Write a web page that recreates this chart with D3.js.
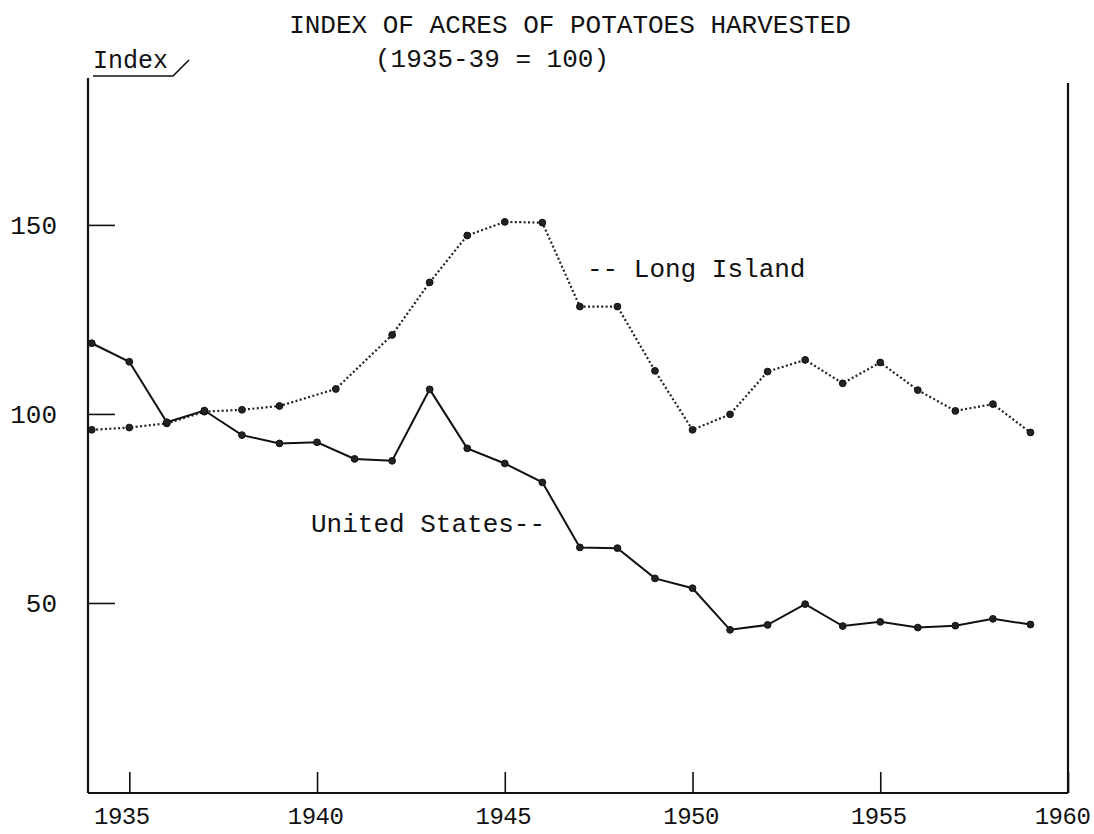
<!DOCTYPE html>
<html>
<head>
<meta charset="utf-8">
<script src="https://cdn.jsdelivr.net/npm/d3@7"></script>
<style>
  body { margin: 0; background: #fff; }
  text { font-family: "Liberation Mono", "Courier New", monospace; fill: #111; }
</style>
</head>
<body>
<svg id="chart"></svg>
<script>
const usYears = [1934, 1935, 1936, 1937, 1938, 1939, 1940, 1941, 1942, 1943, 1944, 1945, 1946,
  1947, 1948, 1949, 1950, 1951, 1952, 1953, 1954, 1955, 1956, 1957, 1958, 1959];
const usValues = [118.7, 113.8, 97.8, 100.9, 94.4, 92.2, 92.5, 88.1, 87.6, 106.5, 90.9, 86.9, 81.9,
  64.7, 64.5, 56.5, 53.9, 42.9, 44.2, 49.7, 43.9, 45.0, 43.5, 44.0, 45.8, 44.3];

// the long island plot has one point drawn between 1940 and 1941
const liYears = [1934, 1935, 1936, 1937, 1938, 1939, 1940.5, 1942, 1943, 1944, 1945, 1946,
  1947, 1948, 1949, 1950, 1951, 1952, 1953, 1954, 1955, 1956, 1957, 1958, 1959];
const liValues = [95.8, 96.4, 97.5, 100.6, 101.1, 102.1, 106.6, 120.9, 134.8, 147.2, 150.8, 150.6,
  128.4, 128.4, 111.4, 95.8, 99.9, 111.2, 114.3, 108.1, 113.6, 106.3, 100.8, 102.6, 95.1];

const xTicks = [1935, 1940, 1945, 1950, 1955, 1960];
const yTicks = [50, 100, 150];

const width = 1094;
const height = 834;

const x = d3.scaleLinear().domain([1933.9, 1960]).range([88, 1068]);
const y = d3.scaleLinear().domain([0, 187.8]).range([792, 82]);

const svg = d3.select("#chart").attr("width", width).attr("height", height);

// frame
svg.append("line").attr("x1", 88).attr("x2", 88).attr("y1", 78).attr("y2", 793)
  .attr("stroke", "#111").attr("stroke-width", 2.2);
svg.append("line").attr("x1", 1068).attr("x2", 1068).attr("y1", 83).attr("y2", 793)
  .attr("stroke", "#111").attr("stroke-width", 2.2);

const xAxis = svg.append("g")
  .attr("transform", "translate(0,793)")
  .call(d3.axisBottom(x).tickValues(xTicks).tickFormat(d3.format("d")).tickSize(-21).tickPadding(14));
const yAxis = svg.append("g")
  .attr("transform", "translate(88,0)")
  .call(d3.axisLeft(y).tickValues(yTicks).tickSize(-27).tickPadding(31));

[xAxis, yAxis].forEach((g) => {
  g.select(".domain").attr("stroke", "#111").attr("stroke-width", 2);
  g.selectAll(".tick line").attr("stroke", "#111").attr("stroke-width", 1.6);
  g.selectAll(".tick text").style("font-size", "26px").attr("fill", "#111");
});
yAxis.select(".domain").remove();
xAxis.select(".domain").attr("d", "M88,0H1068");
xAxis.selectAll(".tick text")
  .style("font-size", "24px").style("letter-spacing", "-0.5px")
  .attr("dx", (d) => (d === 1935 ? -8 : d === 1960 ? -6 : -2));

const us = usYears.map((yr, i) => ({ yr, v: usValues[i] }));
const li = liYears.map((yr, i) => ({ yr, v: liValues[i] }));

const line = d3.line().x((d) => x(d.yr)).y((d) => y(d.v));

svg.append("path").datum(li)
  .attr("d", line).attr("fill", "none")
  .attr("stroke", "#222").attr("stroke-width", 2.2)
  .attr("stroke-dasharray", "2,2.4");

svg.append("path").datum(us)
  .attr("d", line).attr("fill", "none")
  .attr("stroke", "#111").attr("stroke-width", 2);

svg.append("g").selectAll("circle").data(li.concat(us)).join("circle")
  .attr("cx", (d) => x(d.yr)).attr("cy", (d) => y(d.v))
  .attr("r", 3.4).attr("fill", "#222").attr("stroke", "#111").attr("stroke-width", 1);

// titles and labels
svg.append("text").attr("x", 570).attr("y", 33).attr("text-anchor", "middle")
  .style("font-size", "26px").text("INDEX OF ACRES OF POTATOES HARVESTED");
svg.append("text").attr("x", 492).attr("y", 67).attr("text-anchor", "middle")
  .style("font-size", "26px").text("(1935-39 = 100)");
svg.append("text").attr("x", 93).attr("y", 68)
  .style("font-size", "25px").text("Index");
svg.append("path").attr("d", "M93,76H173L189,60")
  .attr("fill", "none").attr("stroke", "#111").attr("stroke-width", 1.6);

svg.append("text").attr("x", 587).attr("y", 277)
  .style("font-size", "26px").text("-- Long Island");
svg.append("text").attr("x", 311).attr("y", 532)
  .style("font-size", "26px").text("United States--");
</script>
</body>
</html>
